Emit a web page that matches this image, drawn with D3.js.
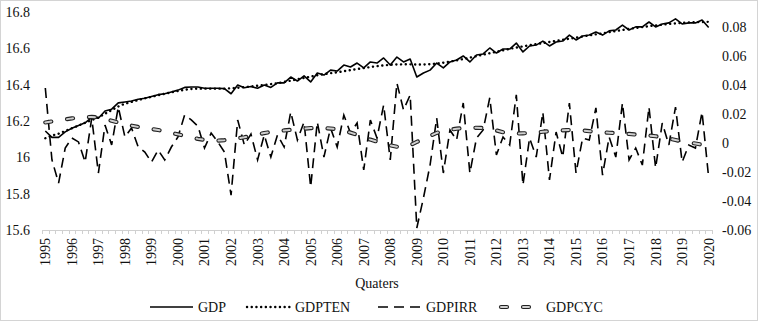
<!DOCTYPE html>
<html>
<head>
<meta charset="utf-8">
<script src="https://cdn.jsdelivr.net/npm/d3@7"></script>
<style>
  body { margin: 0; background: #fff; }
  svg { display: block; font-family: "Liberation Serif", "Times New Roman", serif; }
</style>
</head>
<body>
<svg id="chart" width="758" height="321"></svg>
<script>
// tick labels
var years = ['1995','1996','1997','1998','1999','2000','2001','2002','2003','2004','2005','2006','2007',
  '2008','2009','2010','2011','2012','2013','2014','2015','2016','2017','2018','2019','2020'];
var leftTicks = [15.6, 15.8, 16, 16.2, 16.4, 16.6, 16.8];
var rightTicks = [-0.06, -0.04, -0.02, 0, 0.02, 0.04, 0.06, 0.08];

// quarterly series, 1995Q1 .. 2020Q1
var gdp = [16.145,16.11,16.11,16.14,16.16,16.175,16.19,16.22,16.215,16.255,
  16.265,16.30,16.305,16.31,16.32,16.325,16.335,16.345,16.35,16.36,
  16.37,16.385,16.387,16.387,16.38,16.38,16.38,16.378,16.35,16.398,
  16.383,16.39,16.38,16.398,16.385,16.41,16.41,16.442,16.42,16.448,
  16.415,16.464,16.453,16.48,16.475,16.508,16.497,16.519,16.492,16.525,
  16.519,16.547,16.508,16.552,16.525,16.541,16.442,16.464,16.48,16.519,
  16.492,16.525,16.536,16.558,16.525,16.563,16.569,16.602,16.574,16.596,
  16.596,16.629,16.58,16.613,16.618,16.64,16.613,16.635,16.64,16.673,
  16.646,16.668,16.673,16.69,16.673,16.696,16.701,16.728,16.701,16.718,
  16.718,16.745,16.718,16.734,16.74,16.762,16.734,16.74,16.74,16.756,
  16.715];
var gdpTen = [16.105,16.12,16.13,16.145,16.16,16.175,16.19,16.205,16.22,16.24,
  16.26,16.28,16.295,16.305,16.315,16.325,16.333,16.342,16.35,16.358,
  16.365,16.372,16.376,16.378,16.378,16.378,16.378,16.378,16.38,16.383,
  16.386,16.39,16.394,16.398,16.403,16.408,16.415,16.422,16.43,16.437,
  16.444,16.452,16.458,16.463,16.468,16.474,16.48,16.486,16.491,16.497,
  16.502,16.506,16.509,16.511,16.512,16.512,16.511,16.511,16.513,16.516,
  16.521,16.527,16.534,16.541,16.549,16.557,16.565,16.573,16.581,16.589,
  16.597,16.604,16.611,16.617,16.623,16.629,16.635,16.641,16.647,16.653,
  16.659,16.665,16.671,16.677,16.683,16.689,16.695,16.701,16.707,16.712,
  16.717,16.722,16.726,16.73,16.734,16.737,16.74,16.742,16.744,16.745,
  16.746];
var gdpIrr = [0.0377,-0.0118,-0.0277,-0.0036,0.0033,0.0006,-0.0133,0.017,-0.0208,0.0122,
  -0.0015,0.0246,0.004,0.0102,-0.0029,-0.0064,-0.0133,-0.005,-0.0118,-0.0029,
  0.004,0.0191,0.0157,0.0115,-0.0036,0.0067,0.0006,-0.0064,-0.036,0.0157,
  -0.0015,0.006,-0.0118,0.0054,-0.0098,0.0054,-0.0029,0.0212,0.0019,0.0143,
  -0.0304,0.0143,-0.0098,0.0102,-0.0029,0.0191,0.0067,0.0136,-0.0187,0.0157,
  0.0033,0.026,-0.0118,0.0411,0.0226,0.0329,-0.0586,-0.038,-0.0153,0.017,
  -0.0208,0.0088,0.0019,0.0274,-0.0208,0.0033,0.0088,0.031,-0.0084,0.004,
  -0.0015,0.033,-0.029,0.0033,-0.0098,0.021,-0.0256,0.0074,-0.0098,0.0274,
  -0.0208,0.0033,0.0019,0.024,-0.0222,0.004,-0.0098,0.0274,-0.0118,-0.0036,
  -0.0153,0.0246,-0.0173,0.0136,-0.0015,0.0246,-0.0133,-0.0015,-0.0036,0.0212,
  -0.0242];
var gdpCyc = [0.0140,0.0147,0.0154,0.0161,0.0168,0.0173,0.0176,0.0178,0.0174,0.0165,
  0.0152,0.0140,0.0129,0.0118,0.0109,0.0102,0.0095,0.0088,0.0079,0.0069,
  0.0058,0.0048,0.0037,0.0027,0.0020,0.0016,0.0015,0.0018,0.0024,0.0031,
  0.0038,0.0047,0.0057,0.0067,0.0075,0.0080,0.0085,0.0089,0.0093,0.0097,
  0.0101,0.0102,0.0101,0.0098,0.0094,0.0084,0.0070,0.0055,0.0039,0.0022,
  0.0008,-0.0006,-0.0018,-0.0027,-0.0029,-0.0016,0.0006,0.0025,0.0048,0.0068,
  0.0081,0.0090,0.0097,0.0101,0.0103,0.0103,0.0102,0.0096,0.0085,0.0073,
  0.0066,0.0064,0.0065,0.0067,0.0071,0.0076,0.0080,0.0083,0.0086,0.0088,
  0.0088,0.0085,0.0080,0.0075,0.0072,0.0069,0.0067,0.0064,0.0061,0.0057,
  0.0054,0.0050,0.0045,0.0039,0.0030,0.0019,0.0009,0.0002,-0.0005,-0.0013,
  -0.0017];

// one category per quarter, label only on Q1
var quarters = [];
years.forEach(function(y){
  ['Q1','Q2','Q3','Q4'].forEach(function(q){ quarters.push(y + q) })
});
quarters = quarters.slice(0, gdp.length);

var svg = d3.select("#chart");
var plotLeft = 42, plotRight = 712, plotTop = 12, plotBottom = 230;
var textColor = "#111";
var irrDash = "10 6";

svg.append("rect")
  .attr("x", 0.5).attr("y", 0.5).attr("width", 757).attr("height", 320)
  .attr("fill", "#fff").attr("stroke", "#d4d4d4").attr("stroke-width", 1);

var x = d3.scaleBand().domain(quarters).range([plotLeft, plotRight]);
var cx = function(i){ return x(quarters[i]) + x.bandwidth() / 2; };
var yL = d3.scaleLinear().domain([15.6, 16.8]).range([plotBottom, plotTop]);
var yR = d3.scaleLinear().domain([-0.06, 0.09]).range([plotBottom, plotTop]);

// left axis
var gl = svg.append("g").attr("transform", "translate(" + (plotLeft - 12) + ",0)")
  .call(d3.axisLeft(yL).tickValues(leftTicks).tickSize(0)
    .tickFormat(function(d){ return String(+d.toFixed(1)); }));
gl.select(".domain").remove();
gl.selectAll("text").attr("x", 0).style("font-size", "14px").style("fill", textColor)
  .style("font-family", "Liberation Serif, serif");

// right axis
var gr = svg.append("g").attr("transform", "translate(" + (plotRight + 10) + ",0)")
  .call(d3.axisRight(yR).tickValues(rightTicks).tickSize(0)
    .tickFormat(function(d){ return String(+d.toFixed(2)); }));
gr.select(".domain").remove();
gr.selectAll("text").attr("x", 0).style("font-size", "14px").style("fill", textColor)
  .style("font-family", "Liberation Serif, serif");

// category axis
svg.append("line")
  .attr("x1", plotLeft).attr("x2", plotRight).attr("y1", plotBottom + 0.5).attr("y2", plotBottom + 0.5)
  .attr("stroke", "#d0d0d0").attr("stroke-width", 1);
svg.append("g").selectAll("line")
  .data(quarters.concat(["end"]))
  .join("line")
  .attr("x1", function(d, i){ return Math.round(plotLeft + i * x.step()) + 0.5; })
  .attr("x2", function(d, i){ return Math.round(plotLeft + i * x.step()) + 0.5; })
  .attr("y1", plotBottom).attr("y2", plotBottom + 4)
  .attr("stroke", "#d0d0d0");

var gx = svg.append("g").attr("transform", "translate(0," + plotBottom + ")")
  .call(d3.axisBottom(x)
    .tickValues(quarters.filter(function(q){ return q.slice(4) === 'Q1'; }))
    .tickSize(0)
    .tickFormat(function(q){ return q.slice(0, 4); }));
gx.select(".domain").remove();
gx.selectAll("text")
  .attr("transform", "rotate(-90)")
  .attr("x", -8).attr("y", 0).attr("dy", "0.35em")
  .style("text-anchor", "end")
  .style("font-size", "14px").style("fill", textColor)
  .style("font-family", "Liberation Serif, serif");

svg.append("text")
  .attr("x", 377).attr("y", 288)
  .attr("text-anchor", "middle")
  .style("font-size", "14px").style("fill", textColor)
  .text("Quaters");

// series
function lineOn(scale){
  return d3.line().x(function(d, i){ return cx(i); }).y(function(d){ return scale(d); });
}

svg.append("path").datum(gdp)
  .attr("d", lineOn(yL))
  .attr("fill", "none").attr("stroke", "#000").attr("stroke-width", 1.6)
  .attr("stroke-linejoin", "round");

svg.append("path").datum(gdpTen)
  .attr("d", lineOn(yL))
  .attr("fill", "none").attr("stroke", "#000").attr("stroke-width", 2.4)
  .attr("stroke-dasharray", "0.1 4.6").attr("stroke-linecap", "round");

svg.append("path").datum(gdpIrr)
  .attr("d", lineOn(yR))
  .attr("fill", "none").attr("stroke", "#000").attr("stroke-width", 1.6)
  .attr("stroke-dasharray", irrDash);

svg.append("path").datum(gdpCyc)
  .attr("d", lineOn(yR))
  .attr("fill", "none").attr("stroke", "#222").attr("stroke-width", 4.2)
  .attr("stroke-dasharray", "6 16").attr("stroke-linecap", "round");
svg.append("path").datum(gdpCyc)
  .attr("d", lineOn(yR))
  .attr("fill", "none").attr("stroke", "#cfcfcf").attr("stroke-width", 2)
  .attr("stroke-dasharray", "6 16").attr("stroke-linecap", "round");

// legend
var legendY = 307;
var legendItems = [
  {name: "GDP", x: 150},
  {name: "GDPTEN", x: 247},
  {name: "GDPIRR", x: 378},
  {name: "GDPCYC", x: 498}
];
var lg = svg.append("g");
legendItems.forEach(function(item, k){
  var path = lg.append("path")
    .attr("d", "M" + item.x + "," + legendY + "H" + (item.x + 43))
    .attr("fill", "none").attr("stroke", "#000");
  if (k === 0) path.attr("stroke-width", 1.6);
  if (k === 1) path.attr("stroke-width", 2.4).attr("stroke-dasharray", "0.1 4.6").attr("stroke-linecap", "round");
  if (k === 2) path.attr("stroke-width", 1.6).attr("stroke-dasharray", irrDash);
  if (k === 3) {
    path.attr("stroke", "#222").attr("stroke-width", 4.2).attr("stroke-dasharray", "6 16")
      .attr("stroke-linecap", "round").attr("transform", "translate(3,0)");
    lg.append("path")
      .attr("d", "M" + item.x + "," + legendY + "H" + (item.x + 43))
      .attr("fill", "none").attr("stroke", "#cfcfcf").attr("stroke-width", 2)
      .attr("stroke-dasharray", "6 16").attr("stroke-linecap", "round")
      .attr("transform", "translate(3,0)");
  }
  lg.append("text")
    .attr("x", item.x + 48).attr("y", legendY).attr("dy", "0.35em")
    .style("font-size", "14px").style("fill", textColor)
    .text(item.name);
});
</script>
</body>
</html>
